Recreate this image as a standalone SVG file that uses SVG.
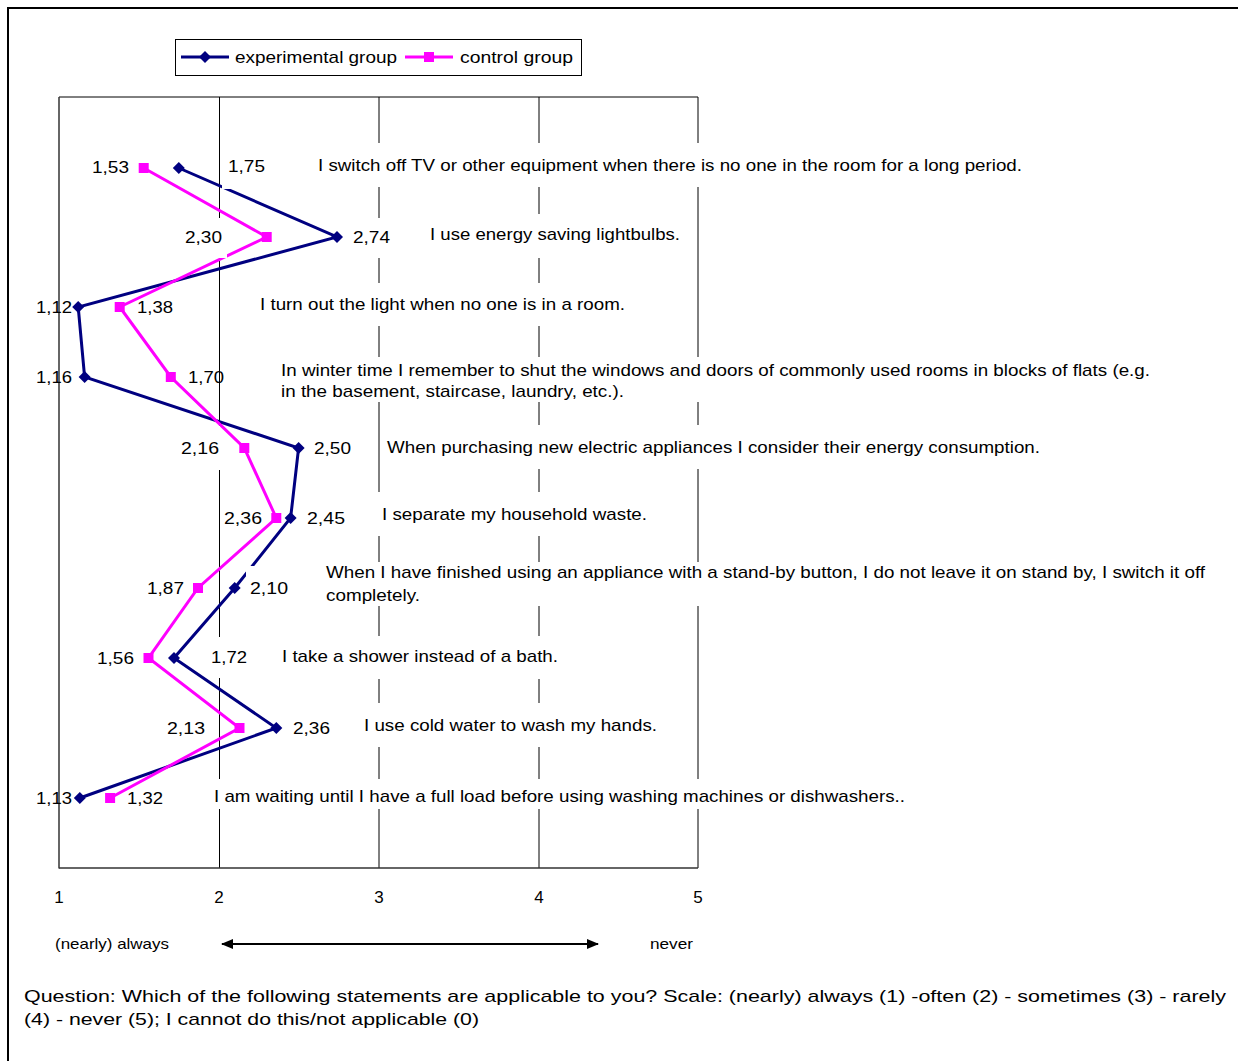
<svg xmlns="http://www.w3.org/2000/svg" width="1238" height="1061" viewBox="0 0 1238 1061">
  <style>
    text { font-family: "Liberation Sans", Arial, sans-serif; font-size: 17px; fill: #000; }
    .small { font-size: 15px; }
    .grid { stroke: #000; stroke-width: 1; fill: none; }
    .axis { stroke: #333; stroke-width: 1.5; fill: none; }
    .exp { stroke: #000080; stroke-width: 3; fill: none; stroke-linejoin: miter; }
    .ctl { stroke: #FF00FF; stroke-width: 3; fill: none; stroke-linejoin: miter; }
    .box { fill: #fff; stroke: none; }
  </style>
  <defs>
    <marker id="m-dia" markerUnits="userSpaceOnUse" markerWidth="14" markerHeight="14" refX="7" refY="7" overflow="visible">
      <path d="M7,1 L13,7 L7,13 L1,7 Z" fill="#000080"/>
    </marker>
    <marker id="m-sq" markerUnits="userSpaceOnUse" markerWidth="12" markerHeight="12" refX="6" refY="6" overflow="visible">
      <rect x="1" y="1" width="10" height="10" fill="#FF00FF"/>
    </marker>
    <marker id="m-arrow-end" markerUnits="userSpaceOnUse" markerWidth="12" markerHeight="10" refX="11" refY="5" orient="auto">
      <path d="M0,0 L12,5 L0,10 Z" fill="#000"/>
    </marker>
    <marker id="m-arrow-start" markerUnits="userSpaceOnUse" markerWidth="12" markerHeight="10" refX="1" refY="5" orient="auto">
      <path d="M12,0 L0,5 L12,10 Z" fill="#000"/>
    </marker>
  </defs>

  <rect width="1238" height="1061" fill="#fff"/>
  <!-- outer frame -->
  <path d="M8,1061 V8 H1238" fill="none" stroke="#000" stroke-width="2"/>

  <!-- legend -->
  <g id="legend">
    <rect x="175.5" y="39.5" width="406" height="36" fill="#fff" stroke="#000" stroke-width="1"/>
    <path d="M181,57 L205,57 L229,57" class="exp" marker-mid="url(#m-dia)"/>
    <text x="235" y="63" textLength="162" lengthAdjust="spacingAndGlyphs">experimental group</text>
    <path d="M405,57 L429,57 L453,57" class="ctl" marker-mid="url(#m-sq)"/>
    <text x="460" y="63" textLength="113" lengthAdjust="spacingAndGlyphs">control group</text>
  </g>

  <!-- plot area and gridlines -->
  <g id="plot-frame">
    <line x1="59" y1="97" x2="698" y2="97" class="grid"/>
    <line x1="219.5" y1="97" x2="219.5" y2="868" class="grid"/>
    <line x1="379" y1="97" x2="379" y2="868" class="grid"/>
    <line x1="539" y1="97" x2="539" y2="868" class="grid"/>
    <line x1="698" y1="97" x2="698" y2="868" class="grid"/>
    <line x1="59" y1="97" x2="59" y2="868.5" class="axis"/>
    <line x1="59" y1="868" x2="698" y2="868" class="axis"/>
  </g>

  <!-- data series -->
  <g id="connectors">
    <polyline id="series-experimental" class="exp"
      marker-start="url(#m-dia)" marker-mid="url(#m-dia)" marker-end="url(#m-dia)"
      points="178.8,168 337,237 78.2,307 84.6,377 298.6,448 290.6,518 234.7,588 174,658 276.3,728 79.8,798"/>
    <polyline id="series-control" class="ctl"
      marker-start="url(#m-sq)" marker-mid="url(#m-sq)" marker-end="url(#m-sq)"
      points="143.7,168 266.7,237 119.7,307 170.8,377 244.3,448 276.3,518 198,588 148.5,658 239.5,728 110.1,798"/>
  </g>

  <!-- value labels -->
  <g id="value-labels">
    <rect class="box" x="222" y="146" width="48" height="43"/>
    <rect class="box" x="180" y="218" width="47" height="40"/>
    <rect class="box" x="349" y="218" width="46" height="40"/>
    <rect class="box" x="177" y="426" width="43" height="44"/>
    <rect class="box" x="246" y="566" width="49" height="44"/>
    <rect class="box" x="207" y="637" width="45" height="41"/>

    <text x="92" y="173" textLength="37" lengthAdjust="spacingAndGlyphs">1,53</text>
    <text x="228" y="172" textLength="37" lengthAdjust="spacingAndGlyphs">1,75</text>
    <text x="185" y="243" textLength="37" lengthAdjust="spacingAndGlyphs">2,30</text>
    <text x="353" y="243" textLength="37" lengthAdjust="spacingAndGlyphs">2,74</text>
    <text x="36" y="313" textLength="36" lengthAdjust="spacingAndGlyphs">1,12</text>
    <text x="137" y="313" textLength="36" lengthAdjust="spacingAndGlyphs">1,38</text>
    <text x="36" y="383" textLength="36" lengthAdjust="spacingAndGlyphs">1,16</text>
    <text x="188" y="383" textLength="36" lengthAdjust="spacingAndGlyphs">1,70</text>
    <text x="181" y="454" textLength="38" lengthAdjust="spacingAndGlyphs">2,16</text>
    <text x="314" y="454" textLength="37" lengthAdjust="spacingAndGlyphs">2,50</text>
    <text x="224" y="524" textLength="38" lengthAdjust="spacingAndGlyphs">2,36</text>
    <text x="307" y="524" textLength="38" lengthAdjust="spacingAndGlyphs">2,45</text>
    <text x="147" y="594" textLength="37" lengthAdjust="spacingAndGlyphs">1,87</text>
    <text x="250" y="594" textLength="38" lengthAdjust="spacingAndGlyphs">2,10</text>
    <text x="97" y="664" textLength="37" lengthAdjust="spacingAndGlyphs">1,56</text>
    <text x="211" y="663" textLength="36" lengthAdjust="spacingAndGlyphs">1,72</text>
    <text x="167" y="734" textLength="38" lengthAdjust="spacingAndGlyphs">2,13</text>
    <text x="293" y="734" textLength="37" lengthAdjust="spacingAndGlyphs">2,36</text>
    <text x="36" y="804" textLength="36" lengthAdjust="spacingAndGlyphs">1,13</text>
    <text x="127" y="804" textLength="36" lengthAdjust="spacingAndGlyphs">1,32</text>
  </g>

  <!-- statements -->
  <g id="statement-1">
    <rect class="box" x="314" y="143" width="716" height="44"/>
    <text x="318" y="171" textLength="704" lengthAdjust="spacingAndGlyphs">I switch off TV or other equipment when there is no one in the room for a long period.</text>
  </g>
  <g id="statement-2">
    <rect class="box" x="426" y="214" width="260" height="44"/>
    <text x="430" y="240" textLength="250" lengthAdjust="spacingAndGlyphs">I use energy saving lightbulbs.</text>
  </g>
  <g id="statement-3">
    <rect class="box" x="256" y="283" width="376" height="43"/>
    <text x="260" y="310" textLength="365" lengthAdjust="spacingAndGlyphs">I turn out the light when no one is in a room.</text>
  </g>
  <g id="statement-4">
    <rect class="box" x="277" y="357" width="880" height="45"/>
    <text x="281" y="376" textLength="869" lengthAdjust="spacingAndGlyphs">In winter time I remember to shut the windows and doors of commonly used rooms in blocks of flats (e.g.</text>
    <text x="281" y="397" textLength="343" lengthAdjust="spacingAndGlyphs">in the basement, staircase, laundry, etc.).</text>
  </g>
  <g id="statement-5">
    <rect class="box" x="383" y="425" width="664" height="44"/>
    <text x="387" y="453" textLength="653" lengthAdjust="spacingAndGlyphs">When purchasing new electric appliances I consider their energy consumption.</text>
  </g>
  <g id="statement-6">
    <rect class="box" x="378" y="492" width="275" height="44"/>
    <text x="382" y="520" textLength="265" lengthAdjust="spacingAndGlyphs">I separate my household waste.</text>
  </g>
  <g id="statement-7">
    <rect class="box" x="322" y="562" width="890" height="44"/>
    <text x="326" y="578" textLength="879" lengthAdjust="spacingAndGlyphs">When I have finished using an appliance with a stand-by button, I do not leave it on stand by, I switch it off</text>
    <text x="326" y="601" textLength="94" lengthAdjust="spacingAndGlyphs">completely.</text>
  </g>
  <g id="statement-8">
    <rect class="box" x="278" y="636" width="286" height="43"/>
    <text x="282" y="662" textLength="276" lengthAdjust="spacingAndGlyphs">I take a shower instead of a bath.</text>
  </g>
  <g id="statement-9">
    <rect class="box" x="360" y="703" width="303" height="44"/>
    <text x="364" y="731" textLength="293" lengthAdjust="spacingAndGlyphs">I use cold water to wash my hands.</text>
  </g>
  <g id="statement-10">
    <rect class="box" x="210" y="779" width="702" height="30"/>
    <text x="214" y="802" textLength="691" lengthAdjust="spacingAndGlyphs">I am waiting until I have a full load before using washing machines or dishwashers..</text>
  </g>

  <!-- scale axis -->
  <g id="scale">
    <text x="59" y="903" text-anchor="middle">1</text>
    <text x="219" y="903" text-anchor="middle">2</text>
    <text x="379" y="903" text-anchor="middle">3</text>
    <text x="539" y="903" text-anchor="middle">4</text>
    <text x="698" y="903" text-anchor="middle">5</text>
    <text class="small" x="55" y="949" textLength="114" lengthAdjust="spacingAndGlyphs">(nearly) always</text>
    <text class="small" x="650" y="949" textLength="43" lengthAdjust="spacingAndGlyphs">never</text>
    <line x1="222" y1="944" x2="598" y2="944" stroke="#000" stroke-width="2" marker-start="url(#m-arrow-start)" marker-end="url(#m-arrow-end)"/>
  </g>

  <!-- question note -->
  <g id="note">
    <text x="24" y="1002" textLength="1202" lengthAdjust="spacingAndGlyphs">Question: Which of the following statements are applicable to you? Scale: (nearly) always (1) -often (2) - sometimes (3) - rarely</text>
    <text x="24" y="1025" textLength="455" lengthAdjust="spacingAndGlyphs">(4) - never (5); I cannot do this/not applicable (0)</text>
  </g>
</svg>
